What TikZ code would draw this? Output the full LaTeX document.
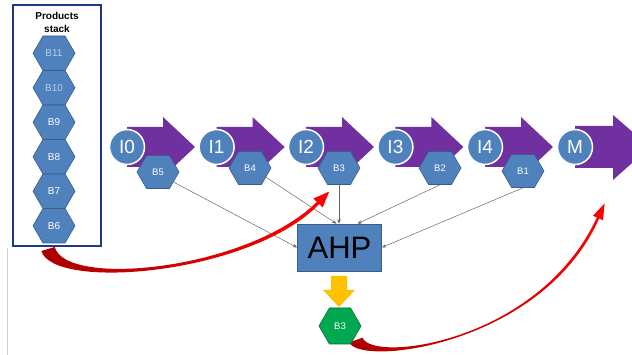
\documentclass[tikz,border=0pt]{standalone}
\usepackage{fontspec}
\setmainfont{Liberation Sans}
\usetikzlibrary{shapes.symbols,arrows.meta,calc}
\definecolor{hexblue}{RGB}{79,129,189}
\definecolor{hexedge}{RGB}{56,93,138}
\definecolor{arrpurple}{RGB}{112,48,160}
\definecolor{boxblue}{RGB}{31,56,136}
\definecolor{hexgreen}{RGB}{0,168,80}
\definecolor{greenedge}{RGB}{0,110,50}
\definecolor{goldy}{RGB}{255,192,0}
\definecolor{fadetext}{RGB}{190,205,228}
\definecolor{darkred}{RGB}{170,0,0}
\begin{document}
\begin{tikzpicture}[x=1pt,y=-1pt,
 hexnode/.style={signal, signal to=east and west, signal pointer angle=120,
   fill=hexblue, draw=hexedge, line width=0.6pt, minimum width=42pt,
   minimum height=33pt, inner sep=0pt, text=white,
   font=\fontsize{9.5}{10}\selectfont},
 stackhex/.style={hexnode, minimum height=34.5pt, font=\fontsize{10}{11}\selectfont},
 greenhex/.style={hexnode, fill=hexgreen, draw=greenedge, minimum height=36pt},
 stagecirc/.style={circle, fill=hexblue, draw=white, line width=1.5pt,
   minimum size=35pt, inner sep=0pt, text=white, font=\fontsize{19}{19}\selectfont},
 feed/.style={draw=black!60, line width=0.5pt, -{Stealth[length=4.5pt,width=3.5pt]}},
 ahpbox/.style={rectangle, fill=hexblue, draw=hexedge, line width=0.6pt,
   minimum width=84pt, minimum height=47pt, inner sep=0pt,
   font=\fontsize{31}{31}\selectfont},
]
\useasboundingbox (0,0) rectangle (632,355);
\clip (0,0) rectangle (632,355);

% faint slide edge
\draw[black!18, line width=0.5pt] (7,248) -- (7,355);

% stack of products
\foreach \yy/\lab/\nm/\tc in {53.25/B11/s11/fadetext, 87.75/B10/s10/fadetext,
    122.25/B9/s9/white, 156.75/B8/s8/white, 191.25/B7/s7/white, 225.75/B6/s6/white}
  \node[stackhex, text=\tc] (\nm) at (54,\yy) {\lab};
\node[font=\bfseries\fontsize{10}{12.5}\selectfont, align=center] (title) at (57,22.5) {Products\\stack};

% purple process arrows
\foreach \cx in {127,216.6,306,395.4,485}
  \fill[arrpurple] (\cx,127) -- (\cx+36,127) -- (\cx+36,117) -- (\cx+68,147)
     -- (\cx+36,177) -- (\cx+36,167) -- (\cx,167) -- cycle;
\fill[arrpurple] (575,126) -- (613,126) -- (613,115) -- (650,147)
     -- (613,180) -- (613,168) -- (575,168) -- cycle;

% stage circles
\foreach \cx/\lab/\nm in {127/I0/i0, 216.6/I1/i1, 306/I2/i2, 395.4/I3/i3, 485/I4/i4, 575/M/m}
  \node[stagecirc] (\nm) at (\cx,147) {\lab};

% hexagons below the arrows
\node[hexnode] (b5) at (158,172) {B5};
\node[hexnode] (b4) at (250,168) {B4};
\node[hexnode] (b3) at (339,168) {B3};
\node[hexnode] (b2) at (440,168) {B2};
\node[hexnode] (b1) at (523,171) {B1};

% AHP box
\node[ahpbox] (ahp) at (339.5,247.5) {AHP};

% feed lines
\draw[feed] (b5.-33) -- (ahp.west);
\draw[feed] (b4.-30) -- ($(ahp.north)+(-3,0)$);
\draw[feed] (b3.south) -- (b3.south |- ahp.north);
\draw[feed] (b2.south) -- ($(ahp.north)+(18,0)$);
\draw[feed] (b1.south) -- (ahp.east);

% red curved arrows
\shade[left color=darkred, right color=red]
  (54.7,247) .. controls (65.8,288.3) and (247.9,269.9) .. (316.9,201.9)
  -- (313.4,198.5) -- (329.2,191.6) -- (322.6,207.6) -- (319.1,204.1)
  .. controls (252.1,274.1) and (54.2,291.7) .. (41.3,251) -- cycle;
\shade[left color=darkred, right color=red]
  (362.6,337.6) .. controls (370.6,363) and (537.7,344) .. (596.9,217.5)
  -- (593,215.7) -- (604.6,203.4) -- (603,220.3) -- (599.1,218.5)
  .. controls (542.3,346) and (359.4,367) .. (349.4,342.4) -- cycle;

% stack frame
\node[draw=boxblue, line width=1.8pt, minimum width=88pt, minimum height=241pt,
  inner sep=0pt] (stack) at (57,125.5) {};

% result hexagon
\node[greenhex] (res) at (340,326) {B3};

% yellow arrow
\fill[goldy] (331,276) -- (347,276) -- (347,290) -- (355,290) -- (339,307)
  -- (323,290) -- (331,290) -- cycle;
\end{tikzpicture}
\end{document}
